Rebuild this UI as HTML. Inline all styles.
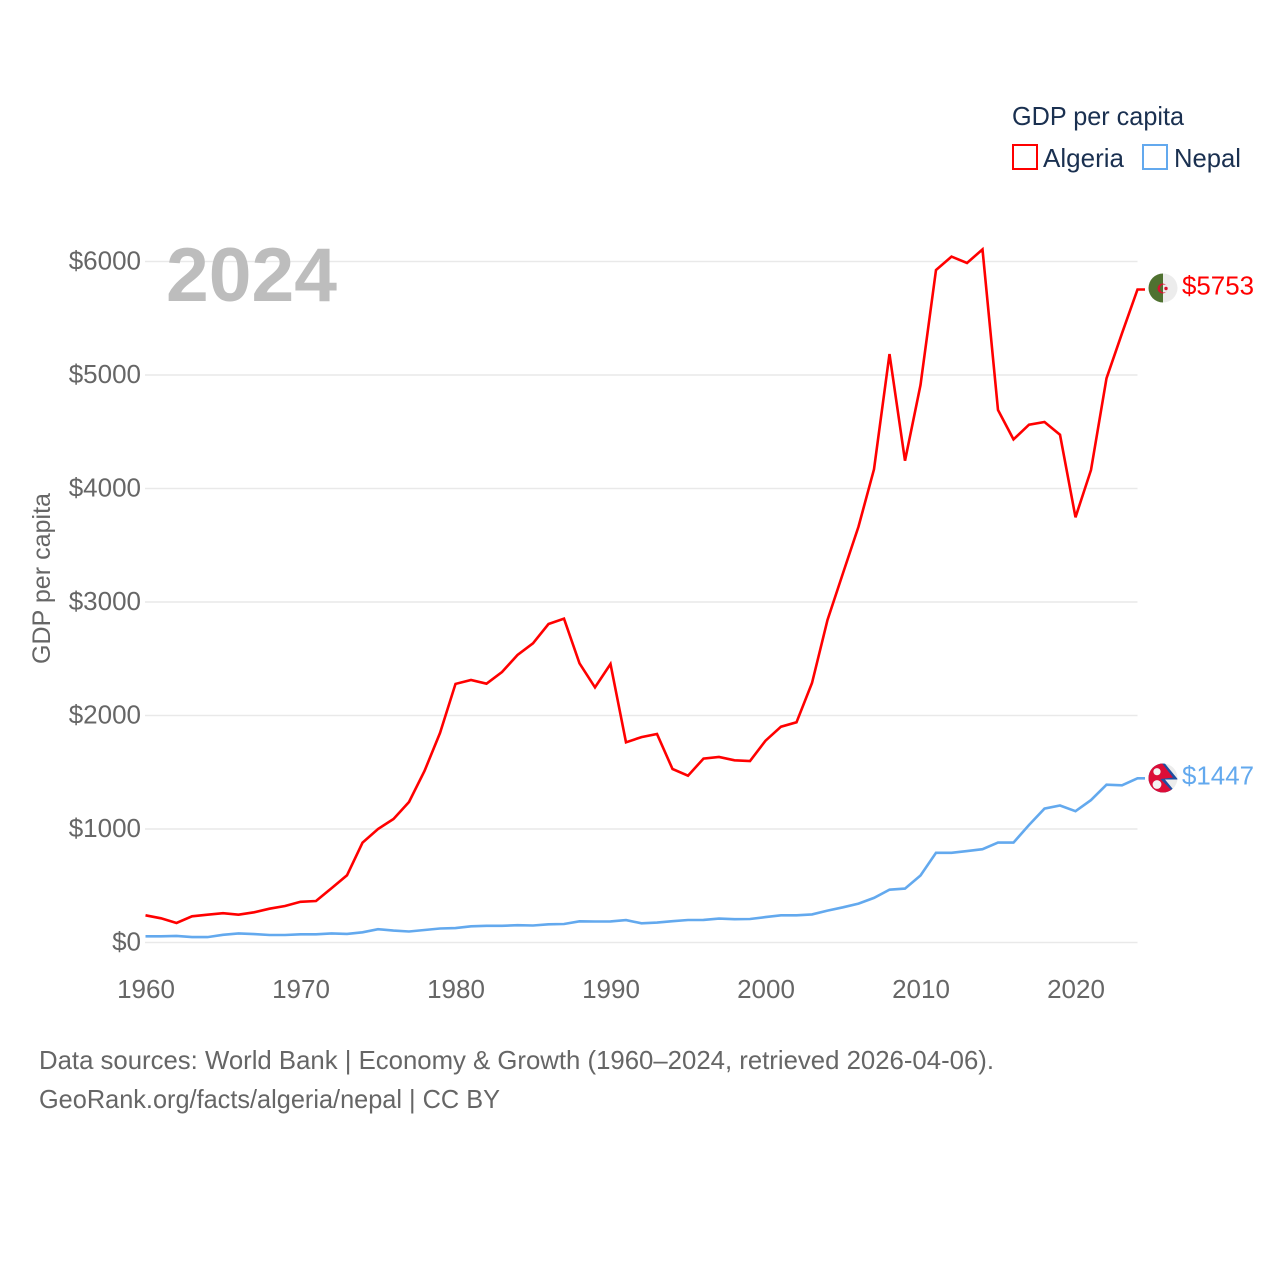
<!DOCTYPE html>
<html lang="en">
<head>
<meta charset="utf-8">
<title>GDP per capita: Algeria and Nepal</title>
<style>
html,body{margin:0;padding:0;background:#fff;width:1280px;height:1280px;overflow:hidden}
svg{display:block}
text{font-family:"Liberation Sans",sans-serif}
</style>
</head>
<body>
<svg id="chart" width="1280" height="1280" viewBox="0 0 1280 1280" xmlns="http://www.w3.org/2000/svg">
  <rect width="1280" height="1280" fill="#fff"/>
  <g id="grid"></g>
  <text x="166" y="301" font-size="76" font-weight="bold" fill="#bdbdbd" textLength="171" lengthAdjust="spacingAndGlyphs">2024</text>
  <g id="yticks"></g>
  <g id="xticks"></g>
  <text transform="translate(50,664) rotate(-90)" font-size="25" fill="#666" textLength="171" lengthAdjust="spacingAndGlyphs">GDP per capita</text>
  <g id="series"></g>

  <g>
    <text x="1012" y="125" font-size="26" fill="#1a3050" textLength="172" lengthAdjust="spacingAndGlyphs">GDP per capita</text>
    <rect x="1013" y="145" width="24" height="24" fill="#fff" stroke="#ff0000" stroke-width="2"/>
    <text x="1043" y="167" font-size="26" fill="#1a3050" textLength="81" lengthAdjust="spacingAndGlyphs">Algeria</text>
    <rect x="1143" y="145" width="24" height="24" fill="#fff" stroke="#63a9ee" stroke-width="2"/>
    <text x="1174" y="167" font-size="26" fill="#1a3050" textLength="67" lengthAdjust="spacingAndGlyphs">Nepal</text>
  </g>

  <defs>
    <clipPath id="flagClipA"><circle cx="1163" cy="288" r="14.5"/></clipPath>
    <clipPath id="flagClipN"><circle cx="1163" cy="778" r="14.5"/></clipPath>
    <clipPath id="greenHalf"><rect x="1148" y="273" width="15" height="30"/></clipPath>
    <clipPath id="whiteHalf"><rect x="1163" y="273" width="15" height="30"/></clipPath>
  </defs>
  <g clip-path="url(#flagClipA)">
    <rect x="1148" y="273" width="15" height="30" fill="#4f7130"/>
    <rect x="1163" y="273" width="15" height="30" fill="#ececec"/>
    <circle cx="1162.5" cy="288.5" r="5" fill="#d8112f"/>
    <circle cx="1164" cy="288.5" r="4" fill="#4f7130" clip-path="url(#greenHalf)"/>
    <circle cx="1164" cy="288.5" r="4" fill="#ececec" clip-path="url(#whiteHalf)"/>
    <circle cx="1166" cy="288.5" r="1.7" fill="#d8112f"/>
  </g>
  <g clip-path="url(#flagClipN)">
    <rect x="1148" y="763" width="30" height="30" fill="#ececec"/>
    <polygon points="1146,760 1162,760 1178,779.5 1165,779.5 1177,794 1146,796" fill="#1f4ea1"/>
    <polygon points="1146,760 1161,762 1173,777.5 1160.5,779 1173,792 1146,796" fill="#dc0d37"/>
    <circle cx="1157" cy="771.7" r="3.6" fill="#f3f3f3"/>
    <circle cx="1157" cy="784.5" r="4.4" fill="#f3f3f3"/>
  </g>

  <text id="label-algeria" x="1182" y="294.5" font-size="26" fill="#ff0000" textLength="72" lengthAdjust="spacingAndGlyphs"></text>
  <text id="label-nepal" x="1182" y="784.5" font-size="26" fill="#63a9ee" textLength="72" lengthAdjust="spacingAndGlyphs"></text>

  <text x="39" y="1069" font-size="26" fill="#666" textLength="955" lengthAdjust="spacingAndGlyphs">Data sources: World Bank | Economy &amp; Growth (1960–2024, retrieved 2026-04-06).</text>
  <text x="39" y="1108" font-size="26" fill="#666" textLength="461" lengthAdjust="spacingAndGlyphs">GeoRank.org/facts/algeria/nepal | CC BY</text>
</svg>
<script>
const firstYear = 1960;
const algeriaValues = [240,213,172,231,245,258,245,266,298,322,359,366,478,592,879,1000,1088,1238,1511,1846,2278,2313,2280,2383,2533,2636,2806,2853,2460,2248,2454,1764,1810,1837,1529,1470,1620,1634,1605,1599,1778,1901,1940,2286,2841,3255,3664,4169,5185,4245,4912,5925,6043,5987,6107,4692,4433,4562,4586,4474,3746,4163,4971,5367,5753];
const nepalValues = [55,55,58,48,48,68,80,74,66,66,72,72,80,76,90,117,105,97,110,123,127,143,147,147,152,150,160,163,187,185,186,197,169,175,188,198,199,211,205,207,224,240,240,248,281,310,343,393,465,475,590,790,790,805,822,880,880,1035,1180,1207,1157,1255,1390,1385,1447];
const yTickValues = [0,1000,2000,3000,4000,5000,6000];
const xTickValues = [1960,1970,1980,1990,2000,2010,2020];

const NS = 'http://www.w3.org/2000/svg';
const xScale = function (year) { return 145.5 + (year - 1960) * 15.5; };
const yScale = function (value) { return 942.5 - value * 0.1135; };
const make = function (tag, attrs, parent) {
  const el = document.createElementNS(NS, tag);
  Object.keys(attrs).forEach(function (k) { el.setAttribute(k, attrs[k]); });
  parent.appendChild(el);
  return el;
};

const grid = document.getElementById('grid');
const yticks = document.getElementById('yticks');
yTickValues.forEach(function (v) {
  const line = make('line', {x1: 145, x2: 1137.5, y1: yScale(v), y2: yScale(v), stroke: '#e9e9e9', 'stroke-width': 1.5}, grid);
  
  
  const label = make('text', {x: 141, y: yScale(v) + 8, 'text-anchor': 'end', 'font-size': 26, fill: '#666'}, yticks);
  
  
  label.textContent = '$' + v;
});

const xticks = document.getElementById('xticks');
xTickValues.forEach(function (y) {
  const label = make('text', {x: xScale(y) + 0.5, y: 998, 'text-anchor': 'middle', 'font-size': 26, fill: '#666'}, xticks);
  
  
  label.textContent = y;
});

const series = document.getElementById('series');
const drawSeries = function (values, color) {
  const pts = values.map(function (v, i) { return xScale(firstYear + i).toFixed(1) + ',' + yScale(v).toFixed(1); });
  const last = values[values.length - 1];
  pts.push('1145,' + yScale(last).toFixed(1));
  return make('polyline', {points: pts.join(' '), fill: 'none', stroke: color, 'stroke-width': 2.6, 'stroke-linejoin': 'miter'}, series);
};
const nepalLine = drawSeries(nepalValues, '#63a9ee');


const algeriaLine = drawSeries(algeriaValues, '#ff0000');



document.getElementById('label-algeria').textContent = '$' + algeriaValues[algeriaValues.length - 1];
document.getElementById('label-nepal').textContent = '$' + nepalValues[nepalValues.length - 1];
</script>
</body>
</html>
